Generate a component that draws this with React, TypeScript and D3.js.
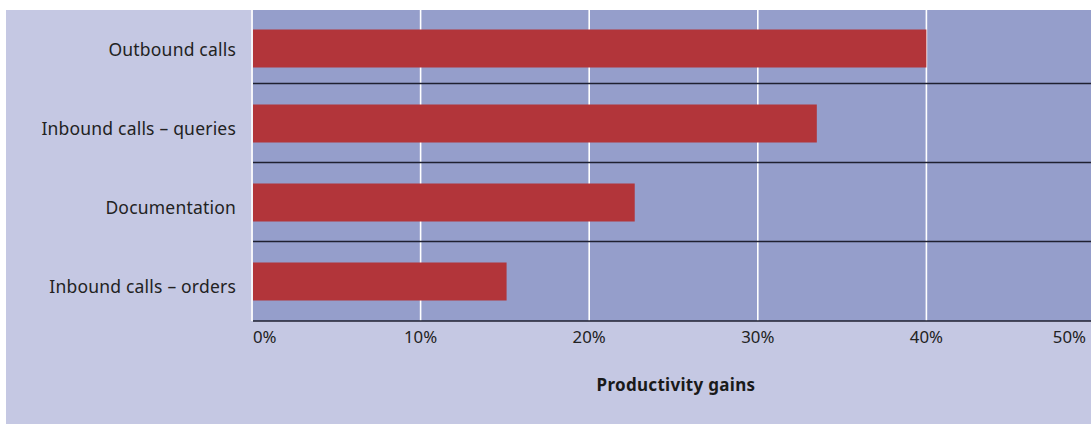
import React from "react";
import * as d3 from "d3";

const categories = ["Outbound calls", "Inbound calls – queries", "Documentation", "Inbound calls – orders"];
const values = [40.0, 33.5, 22.7, 15.1];
const ticks = [0, 10, 20, 30, 40, 50];
const axisTitle = "Productivity gains";

const W = 1091;
const H = 425;
const font = "'Noto Sans', sans-serif";

export default function App() {
  const x = d3.scaleLinear().domain([0, 50]).range([252, 1095]);
  const y = d3.scaleBand<string>().domain(categories).range([5, 321]).padding(0);
  const plotTop = 10;
  const plotBottom = 321;
  const plotLeft = 253;
  const barH = 38;
  return (
    <svg width={W} height={H} style={{ position: "absolute", left: 0, top: 0 }}>
      <rect x={6} y={10} width={W - 6} height={414} fill="#c5c8e3" />
      <rect x={plotLeft} y={plotTop} width={W - plotLeft} height={plotBottom - plotTop} fill="#959ecb" />
      {ticks.slice(0, 5).map((t) => (
        <line key={t} x1={x(t)} x2={x(t)} y1={plotTop} y2={plotBottom} stroke="#ffffff" strokeWidth={1.6} />
      ))}
      {categories.slice(1).map((c) => (
        <line key={c} x1={plotLeft} x2={W} y1={y(c)! - 0.5} y2={y(c)! - 0.5} stroke="#1f2030" strokeWidth={1.5} />
      ))}
      {categories.map((c, i) => {
        const mid = y(c)! + y.bandwidth() / 2;
        const cy = mid + (i === 0 ? 4 : 0);
        return (
          <g key={c}>
            <rect x={plotLeft} y={cy - barH / 2} width={x(values[i]) - plotLeft} height={barH} fill="#b2353a" />
            <text
              x={236}
              y={mid + 5}
              dy="0.35em"
              textAnchor="end"
              fontFamily={font}
              fontSize={17.5}
              letterSpacing={0.2}
              fill="#222"
            >
              {c}
            </text>
          </g>
        );
      })}
      <line x1={plotLeft} x2={W} y1={plotBottom} y2={plotBottom} stroke="#1f2030" strokeWidth={1.5} />
      {ticks.map((t, i) => (
        <text
          key={t}
          x={i === 0 ? 253 : i === ticks.length - 1 ? 1086 : x(t)}
          y={343}
          textAnchor={i === 0 ? "start" : i === ticks.length - 1 ? "end" : "middle"}
          fontFamily={font}
          fontSize={16.8}
          fill="#222"
        >
          {t}%
        </text>
      ))}
      <text
        x={676}
        y={391}
        textAnchor="middle"
        fontFamily={font}
        fontSize={17}
        letterSpacing={0.3}
        fontWeight="bold"
        fill="#1a1a1a"
      >
        {axisTitle}
      </text>
    </svg>
  );
}
